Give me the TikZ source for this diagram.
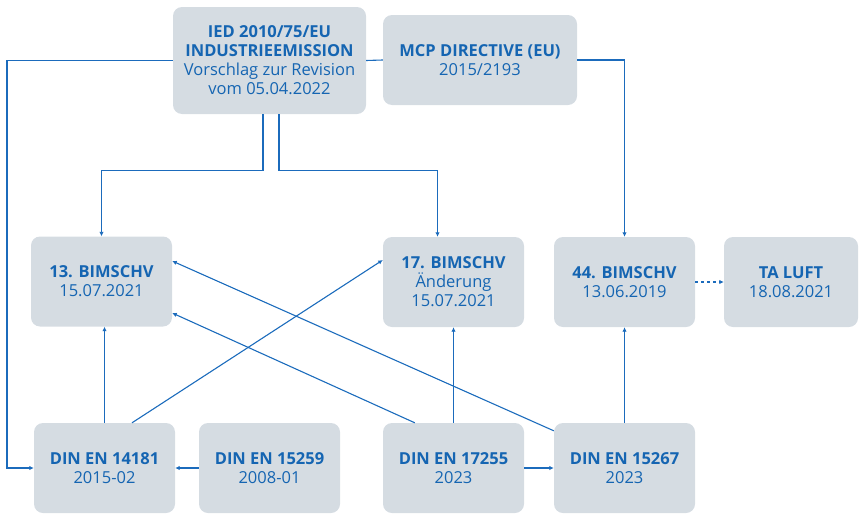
\documentclass[tikz,border=0pt]{standalone}
\usepackage{fontspec}
\setmainfont{Open Sans}
\usepackage{xcolor}
\usetikzlibrary{arrows.meta,calc,positioning}
\definecolor{boxgray}{HTML}{D5DCE2}
\definecolor{lawblue}{HTML}{1565B2}
\definecolor{linkblue}{HTML}{1B6BBC}
\newcommand{\lawbox}[5]{%
  \node[lawbox,minimum width=#4pt] (#1) at (#2,#3) {#5};}
\begin{document}
\begin{tikzpicture}[x=1pt,y=-1pt,>={Latex[length=4.5pt,width=4.5pt]},
  lawbox/.style={fill=boxgray,rounded corners=9pt,minimum height=90pt,align=center,
    text=lawblue,font=\fontsize{16.5}{19}\selectfont,inner sep=0pt},
  link/.style={draw=linkblue,line width=1.1pt}]
\useasboundingbox (0,0) rectangle (859,514);
% top row
\node[lawbox,minimum width=193pt,minimum height=107pt] (ied) at (269.5,60.5)
  {\textbf{IED 2010/75/EU}\\\textbf{INDUSTRIEEMISSION}\\Vorschlag zur Revision\\vom 05.04.2022};
\lawbox{mcp}{480}{60}{194}{\textbf{MCP DIRECTIVE (EU)}\\2015/2193}
% middle row
\lawbox{b13}{101.5}{281.5}{141}{\textbf{13. BIMSCHV}\\15.07.2021}
\lawbox{b17}{453.5}{282}{141}{\textbf{17. BIMSCHV}\\Änderung\\15.07.2021}
\lawbox{b44}{624.5}{282}{141}{\textbf{44. BIMSCHV}\\13.06.2019}
\lawbox{ta}{791}{282}{134}{\textbf{TA LUFT}\\18.08.2021}
% bottom row
\lawbox{d14181}{104.5}{468}{141}{\textbf{DIN EN 14181}\\2015-02}
\lawbox{d15259}{269.5}{468}{141}{\textbf{DIN EN 15259}\\2008-01}
\lawbox{d17255}{453.5}{468}{141}{\textbf{DIN EN 17255}\\2023}
\lawbox{d15267}{624.5}{468}{141}{\textbf{DIN EN 15267}\\2023}
% connectors
\coordinate (lcorner) at (7,60.5);
\draw[link,->] (ied.west) -- (lcorner) |- (d14181.west);
\draw[link] (ied.east) -- (mcp.west);
\draw[link,->] (mcp.east) -| (b44.north);
\draw[link,->] ($(ied.south)+(-6.5,0)$) -- ++(0,56) -| (b13.north);
\draw[link,->] ($(ied.south)+(9.5,0)$) -- ++(0,56) -| ($(b17.north)+(-16,0)$);
\draw[link,->] (d14181.north) -- (d14181.north |- b13.south);
\draw[link,->] ($(d14181.north)+(27.5,0)$) -- ($(b17.west)+(0,-22)$);
\draw[link,->] ($(d17255.north west)+(32,0)$) -- ($(b13.east)+(0,31.5)$);
\draw[link,->] ($(d15267.north west)+(0,8)$) -- ($(b13.east)+(0,-20.5)$);
\draw[link,->] (d17255.north) -- (b17.south);
\draw[link,->] (d15267.north) -- (b44.south);
\draw[link,->] (d17255.east) -- (d15267.west);
\draw[link,->] (d15259.west) -- (d14181.east);
\draw[link,->,dash pattern=on 3pt off 3pt] (b44.east) -- (ta.west);
\end{tikzpicture}
\end{document}
